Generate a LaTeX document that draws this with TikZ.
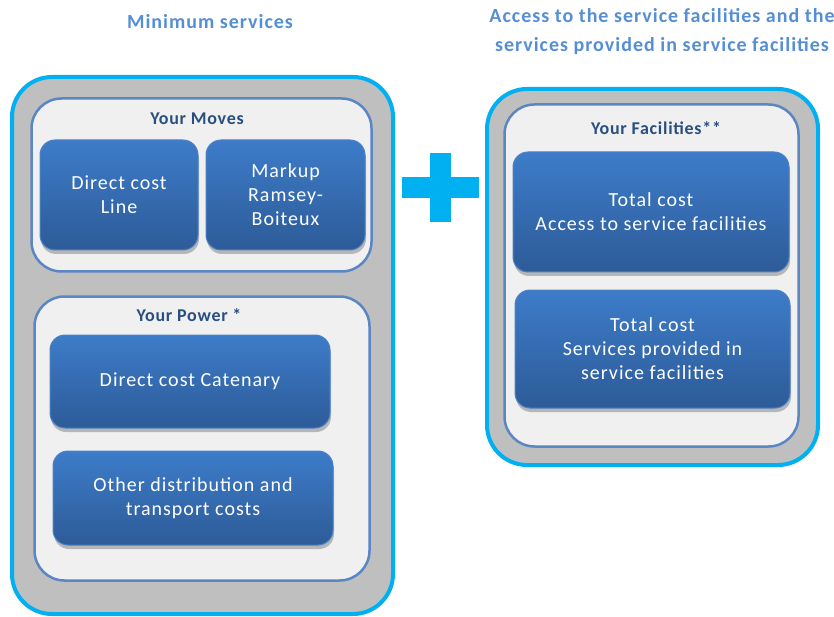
\documentclass[tikz,border=0pt]{standalone}
\usepackage{fontspec}
\setmainfont{Carlito}
\newfontfamily\boxfont[LetterSpace=5]{Carlito}
\newfontfamily\titlefont[LetterSpace=4]{Carlito}
\usetikzlibrary{shadows}

\definecolor{cyanline}{HTML}{00B0F0}
\definecolor{grayfill}{HTML}{BFBFBF}
\definecolor{panelfill}{HTML}{F0F0F0}
\definecolor{panelline}{HTML}{5A86C4}
\definecolor{boxtop}{HTML}{3D7CC9}
\definecolor{boxbottom}{HTML}{2D5B98}
\definecolor{boxline}{HTML}{4C82C6}
\definecolor{titleblue}{HTML}{2A4E7E}
\definecolor{headblue}{HTML}{558ED5}

\tikzset{
	outerbox/.style={draw=cyanline, line width=4pt, fill=grayfill, rounded corners=40pt, inner sep=0pt},
	panel/.style={draw=panelline, line width=2.5pt, fill=panelfill, rounded corners=30pt, inner sep=0pt},
	costbox/.style={draw=boxline, line width=1pt, rounded corners=15pt, top color=boxtop, bottom color=boxbottom,
		text=white, align=center, inner sep=0pt, font=\boxfont\fontsize{20}{24}\selectfont,
		drop shadow={shadow xshift=1pt, shadow yshift=-4pt, opacity=0.35, fill=black!70}},
	paneltitle/.style={text=titleblue, font=\titlefont\bfseries\fontsize{18}{22}\selectfont},
	header/.style={text=headblue, align=center, font=\boxfont\bfseries\fontsize{20}{29}\selectfont}
}

\begin{document}
\begin{tikzpicture}[x=1pt, y=-1pt]
		
		\useasboundingbox (0,0) rectangle (834,617);
		
		% headers
		\node[header] (minhead) at (210,22) {Minimum services};
		\node[header] (acchead) at (662,32) {Access to the service facilities and the\\services provided in service facilities};
		
		% left side
		\node[outerbox, minimum width=381pt, minimum height=537pt] (minimum) at (202.5,345.5) {};
		\node[panel, minimum width=340pt, minimum height=173pt] (moves) at (201.5,185) {};
		\node[panel, minimum width=335pt, minimum height=284pt] (power) at (202,438.5) {};
		\node[paneltitle] (movestitle) at (197,119) {Your Moves};
		\node[paneltitle] (powertitle) at (189,315) {Your Power *};
		
		\node[costbox, minimum width=158pt, minimum height=110pt] (line) at (119,195) {Direct cost\\Line};
		\node[costbox, minimum width=159pt, minimum height=110pt] (markup) at (285.5,195) {Markup\\Ramsey-\\Boiteux};
		\node[costbox, minimum width=280pt, minimum height=93pt] (catenary) at (190,381.5) {Direct cost Catenary};
		\node[costbox, minimum width=280pt, minimum height=94pt] (otherdist) at (193,498) {Other distribution and\\transport costs};
		
		% plus sign
		\fill[cyanline] (430,153) rectangle (451,222);
		\fill[cyanline] (402,177) rectangle (479,198);
		
		% right side
		\node[outerbox, minimum width=331pt, minimum height=376pt] (access) at (652.5,277) {};
		\node[panel, minimum width=294pt, minimum height=342pt] (facilities) at (651.5,275.5) {};
		\node[paneltitle] (factitle) at (656,128) {Your Facilities**};
		
		\node[costbox, minimum width=276pt, minimum height=120pt] (accesscost) at (651,212) {Total cost\\Access to service facilities};
		\node[costbox, minimum width=275pt, minimum height=118pt] (servicecost) at (652.5,349) {Total cost\\Services provided in\\service facilities};
		
		\end{tikzpicture}
\end{document}
